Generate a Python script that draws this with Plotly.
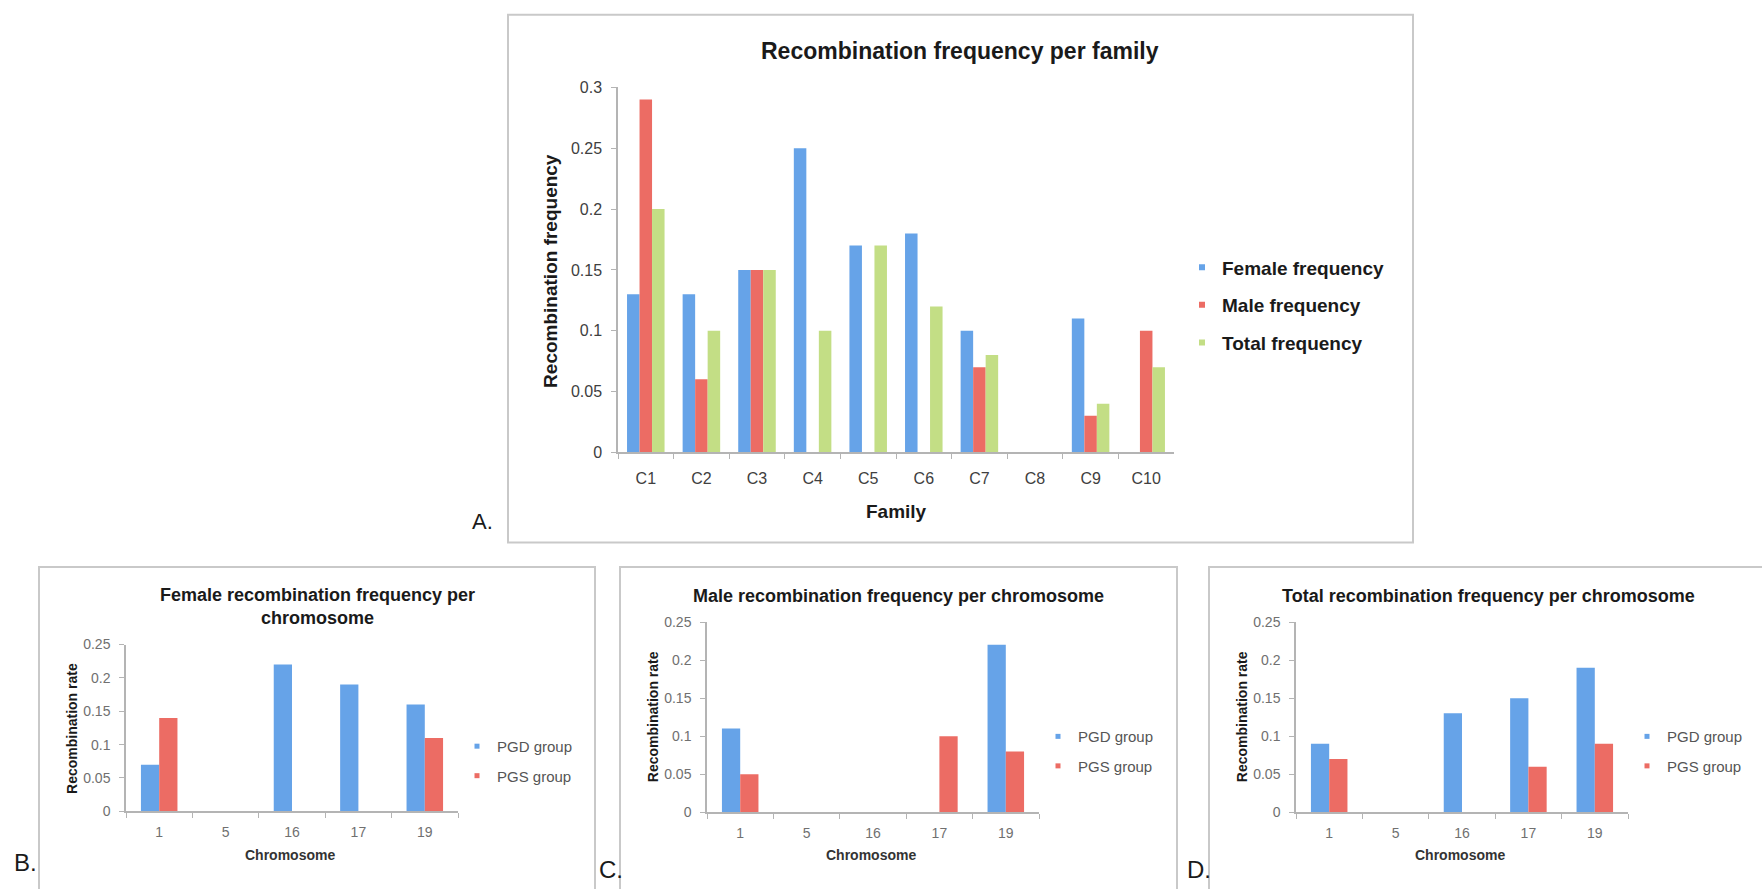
import plotly.graph_objects as go

# ---- data -------------------------------------------------------------
families = ["C1", "C2", "C3", "C4", "C5", "C6", "C7", "C8", "C9", "C10"]
female_freq = [0.13, 0.13, 0.15, 0.25, 0.17, 0.18, 0.10, 0.0, 0.11, 0.0]
male_freq = [0.29, 0.06, 0.15, 0.0, 0.0, 0.0, 0.07, 0.0, 0.03, 0.10]
total_freq = [0.20, 0.10, 0.15, 0.10, 0.17, 0.12, 0.08, 0.0, 0.04, 0.07]

chromosomes = ["1", "5", "16", "17", "19"]
female_pgd = [0.07, 0.0, 0.22, 0.19, 0.16]
female_pgs = [0.14, 0.0, 0.0, 0.0, 0.11]
male_pgd = [0.11, 0.0, 0.0, 0.0, 0.22]
male_pgs = [0.05, 0.0, 0.0, 0.10, 0.08]
total_pgd = [0.09, 0.0, 0.13, 0.15, 0.19]
total_pgs = [0.07, 0.0, 0.0, 0.06, 0.09]

family_ticks = [0, 0.05, 0.10, 0.15, 0.20, 0.25, 0.30]
family_tick_text = ["0", "0.05", "0.1", "0.15", "0.2", "0.25", "0.3"]
chrom_ticks = [0, 0.05, 0.10, 0.15, 0.20, 0.25]
chrom_tick_text = ["0", "0.05", "0.1", "0.15", "0.2", "0.25"]

# ---- styling ----------------------------------------------------------
W, H = 1762, 889
FONT = "Liberation Sans, Arial, sans-serif"
BLUE = "#66A3E8"
RED = "#EC6C64"
GREEN = "#C3DE85"
AXIS = "#B4B4B4"
FRAME = "#C9C9C9"


def fx(px):
    return px / W


def fy(py):
    return 1 - py / H


fig = go.Figure()

# ---- panel A: per family ---------------------------------------------
top_w = 0.225
for name, vals, col, off in [
    ("Female frequency", female_freq, BLUE, -1.5 * top_w),
    ("Male frequency", male_freq, RED, -0.5 * top_w),
    ("Total frequency", total_freq, GREEN, 0.5 * top_w),
]:
    fig.add_trace(go.Bar(x=families, y=vals, width=top_w, offset=off,
                         marker=dict(color=col, line=dict(width=0)),
                         xaxis="x", yaxis="y", showlegend=False))
    fig.add_trace(go.Scatter(x=[None], y=[None], mode="markers", name=name,
                             legendgroup="A " + name,
                             marker=dict(symbol="square", size=6, color=col),
                             xaxis="x", yaxis="y", legend="legend"))

# ---- panels B, C, D: per chromosome ----------------------------------
bot_w = 0.275
panels = [
    ("2", female_pgd, female_pgs, "legend2"),
    ("3", male_pgd, male_pgs, "legend3"),
    ("4", total_pgd, total_pgs, "legend4"),
]
for idx, pgd, pgs, leg in panels:
    for name, vals, col, off in [
        ("PGD group", pgd, BLUE, -bot_w),
        ("PGS group", pgs, RED, 0.0),
    ]:
        fig.add_trace(go.Bar(x=chromosomes, y=vals, width=bot_w, offset=off,
                             marker=dict(color=col, line=dict(width=0)),
                             xaxis="x" + idx, yaxis="y" + idx, showlegend=False))
        fig.add_trace(go.Scatter(x=[None], y=[None], mode="markers", name=name,
                                 legendgroup=leg + " " + name,
                                 marker=dict(symbol="square", size=5, color=col),
                                 xaxis="x" + idx, yaxis="y" + idx, legend=leg))


def xax(d0, d1, anchor, n, size, color, standoff):
    return dict(domain=[fx(d0), fx(d1)], anchor=anchor, type="category",
                range=[-0.5, n - 0.5], showline=True, linecolor=AXIS, linewidth=1.5,
                ticks="outside", tickson="boundaries", ticklen=5, tickcolor=AXIS,
                tickfont=dict(family=FONT, size=size, color=color),
                ticklabelstandoff=standoff, showgrid=False, zeroline=False,
                fixedrange=True)


def yax(top, bottom, anchor, rng, vals, text, size, color):
    return dict(domain=[fy(bottom), fy(top)], anchor=anchor, range=rng,
                tickvals=vals, ticktext=text, showline=True, linecolor=AXIS,
                linewidth=1.5, ticks="outside", ticklen=5, tickcolor=AXIS,
                tickfont=dict(family=FONT, size=size, color=color),
                ticklabelstandoff=6, showgrid=False, zeroline=False,
                fixedrange=True)


layout = dict(
    width=W, height=H, margin=dict(l=0, r=0, t=0, b=0),
    paper_bgcolor="white", plot_bgcolor="white", barmode="overlay",
    font=dict(family=FONT, color="#222222"),
    xaxis=xax(618, 1174, "y", 10, 16, "#404040", 11),
    yaxis=yax(81, 453, "x", [0, 0.3], family_ticks, family_tick_text, 16, "#404040"),
    xaxis2=xax(126, 458, "y2", 5, 14, "#707070", 7),
    yaxis2=yax(649, 819, "x2", [0, 0.25], chrom_ticks, chrom_tick_text, 14, "#707070"),
    xaxis3=xax(707, 1039, "y3", 5, 14, "#707070", 7),
    yaxis3=yax(626, 820, "x3", [0, 0.25], chrom_ticks, chrom_tick_text, 14, "#707070"),
    xaxis4=xax(1296, 1628, "y4", 5, 14, "#707070", 7),
    yaxis4=yax(626, 820, "x4", [0, 0.25], chrom_ticks, chrom_tick_text, 14, "#707070"),
)

legend_common = dict(bgcolor="rgba(0,0,0,0)", borderwidth=0,
                     xanchor="left", yanchor="top", traceorder="grouped",
                     itemwidth=30)
layout["legend"] = dict(legend_common, x=fx(1222 - 40), y=fy(245),
                        font=dict(family=FONT, size=19, color="#1A1A1A",
                                  weight="bold"),
                        tracegroupgap=10)
for key, left, top in [("legend2", 497, 736), ("legend3", 1078, 726),
                       ("legend4", 1667, 726)]:
    layout[key] = dict(legend_common, x=fx(left - 40), y=fy(top),
                       font=dict(family=FONT, size=15, color="#555555"),
                       tracegroupgap=7)

fig.update_layout(**layout)

# ---- frames around each panel ----------------------------------------
for x0, y0, x1, y1 in [(508, 7, 1413, 545), (39, 570, 595, 900),
                       (620, 570, 1177, 900), (1209, 570, 1775, 900)]:
    fig.add_shape(type="rect", xref="paper", yref="paper",
                  x0=fx(x0), x1=fx(x1), y0=fy(y1), y1=fy(y0),
                  line=dict(color=FRAME, width=2), fillcolor="rgba(0,0,0,0)",
                  layer="below")


def note(text, x, y, size, bold=False, angle=0, color="#1A1A1A", xanchor="center"):
    fig.add_annotation(text=text, xref="paper", yref="paper", x=fx(x), y=fy(y),
                       xanchor=xanchor, yanchor="middle", showarrow=False,
                       textangle=angle,
                       font=dict(family=FONT, size=size, color=color,
                                 weight="bold" if bold else "normal"))


# titles
note("Recombination frequency per family", 960, 44, 23, bold=True)
note("Female recombination frequency per<br>chromosome", 317, 610, 18, bold=True)
note("Male recombination frequency per chromosome", 898, 599, 18, bold=True)
note("Total recombination frequency per chromosome", 1488, 599, 18, bold=True)

# axis titles
note("Recombination frequency", 551, 268, 19, bold=True, angle=-90)
note("Family", 896, 513, 19, bold=True)
for dx, yc in [(0, 735), (581, 723), (1170, 723)]:
    note("Recombination rate", 72 + dx, yc, 14, bold=True, angle=-90)
    note("Chromosome", 290 + dx, 864, 14, bold=True, color="#333333")

# panel letters
note("A.", 470, 524, 22, xanchor="left")
note("B.", 12, 871, 24, xanchor="left")
note("C.", 597, 878, 24, xanchor="left")
note("D.", 1185, 878, 24, xanchor="left")

fig.write_html("out.html")
